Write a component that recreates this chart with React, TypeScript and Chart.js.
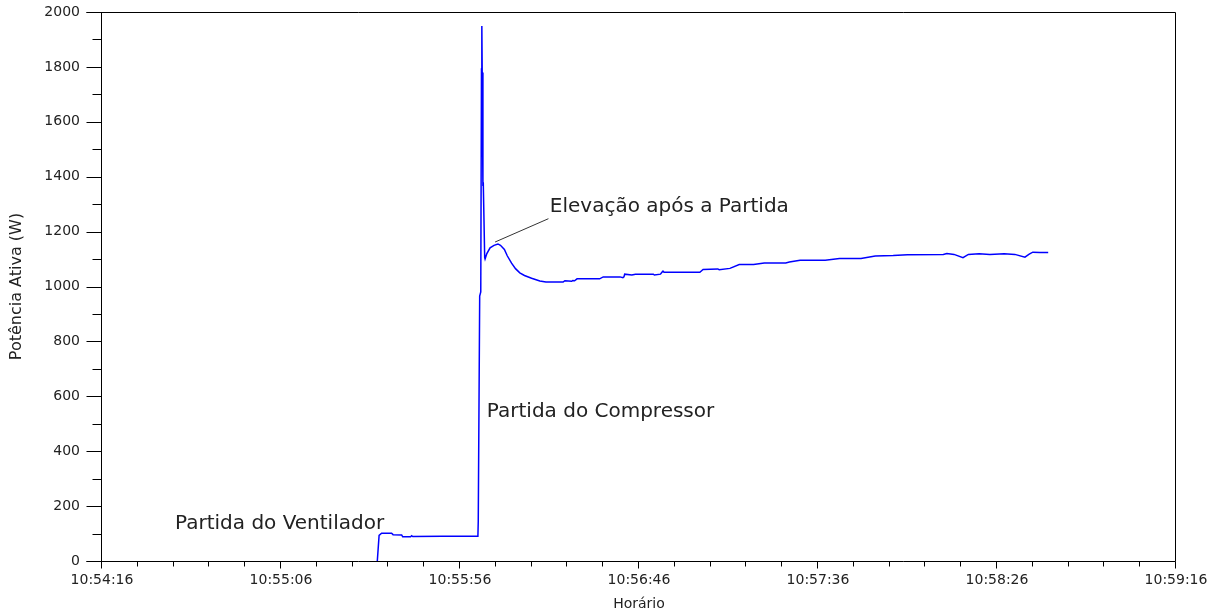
import React, { useEffect, useRef } from 'react';
import { Chart, registerables } from 'chart.js';

Chart.register(...registerables);

// X axis: seconds elapsed since 10:54:16
const xTickLabels = ['10:54:16', '10:55:06', '10:55:56', '10:56:46', '10:57:36', '10:58:26', '10:59:16'];
const yTickStep = 200;

const timeSeconds = [
  76.9, 77.4, 78.1, 80.9, 81.3, 83.7, 84.0, 86.2, 86.5, 86.8, 95.0, 105.0,
  105.1, 105.5, 105.8, 106.0, 106.1, 106.2, 106.4, 106.5, 106.9, 107.0,
  107.5, 108.4, 109.5, 110.6, 111.3, 112.4, 113.2, 114.4, 115.5, 116.7, 118.0, 120.0,
  122.3, 124.0, 128.8, 129.3, 131.2, 131.5, 132.0, 132.7, 139.0, 140.0, 144.7, 145.5, 145.8,
  146.0, 148.0, 149.0, 154.0, 154.3, 156.0, 156.4, 156.7, 157.0, 167.0, 167.9, 172.0, 172.4,
  175.4, 178.0, 182.0, 185.0, 191.0, 192.0, 195.0, 202.0, 206.0, 212.0, 216.0, 221.0,
  225.0, 235.0, 236.0, 238.0, 240.5, 242.0, 245.0, 248.0, 252.0, 255.0, 257.8, 259.0,
  260.0, 262.0, 264.3,
];
const activePower = [
  0, 93, 101, 101, 96, 95, 88, 88, 92, 89, 90, 90,
  145, 965, 980, 1792, 1949, 1780, 1366, 1380, 1105, 1100,
  1120, 1141, 1150, 1155, 1150, 1135, 1112, 1085, 1065, 1050, 1040, 1030,
  1020, 1016, 1016, 1021, 1019, 1022, 1021, 1028, 1028, 1035, 1035, 1032, 1035,
  1045, 1042, 1045, 1045, 1042, 1045, 1052, 1056, 1052, 1052, 1062, 1064, 1061,
  1066, 1080, 1080, 1086, 1086, 1089, 1096, 1096, 1102, 1102, 1111, 1113,
  1116, 1117, 1120, 1117, 1105, 1117, 1119, 1117, 1119, 1117, 1107, 1118,
  1125, 1124, 1124,
];

const annotationTexts = ['Partida do Ventilador', 'Partida do Compressor', 'Elevação após a Partida'];
const annotationTimes = [20.4, 107.5, 125.1];
const annotationPowers = [115, 523, 1270];
const leaderTimes = [109.8, 124.7];
const leaderPowers = [1162, 1247];

const FONT = '"DejaVu Sans", "Liberation Sans", Arial, sans-serif';

const framePlugin = {
  id: 'framePlugin',
  afterDatasetsDraw(chart: any) {
    const { ctx, scales } = chart;
    const x = scales.x;
    const y = scales.y;
    ctx.save();
    ctx.strokeStyle = '#333';
    ctx.lineWidth = 1;
    ctx.beginPath();
    ctx.moveTo(x.getPixelForValue(leaderTimes[0]), y.getPixelForValue(leaderPowers[0]));
    ctx.lineTo(x.getPixelForValue(leaderTimes[1]), y.getPixelForValue(leaderPowers[1]));
    ctx.stroke();
    ctx.fillStyle = '#222';
    ctx.font = '20px ' + FONT;
    ctx.textBaseline = 'alphabetic';
    ctx.textAlign = 'left';
    annotationTexts.forEach((t, i) => {
      ctx.fillText(t, x.getPixelForValue(annotationTimes[i]), y.getPixelForValue(annotationPowers[i]));
    });
    ctx.restore();
  },
  afterDraw(chart: any) {
    const { ctx, chartArea: a, scales } = chart;
    const x = scales.x;
    const y = scales.y;
    const L = Math.round(a.left) - 0.5;
    const R = Math.round(a.right) - 0.5;
    const T = Math.round(a.top) + 0.5;
    const B = Math.round(a.bottom) + 0.5;
    ctx.save();
    ctx.strokeStyle = '#000';
    ctx.lineWidth = 1;
    ctx.beginPath();
    ctx.moveTo(L - 15, T);
    ctx.lineTo(R, T);
    ctx.lineTo(R, B);
    ctx.moveTo(L, T);
    ctx.lineTo(L, B);
    ctx.moveTo(L - 15, B);
    ctx.lineTo(R, B);
    for (let v = y.min; v <= y.max; v += yTickStep / 2) {
      const py = Math.round(y.getPixelForValue(v)) + 0.5;
      const len = v % yTickStep === 0 ? 15 : 9;
      ctx.moveTo(L - len, py);
      ctx.lineTo(L, py);
    }
    for (let t = x.min; t <= x.max; t += 10) {
      const px = Math.round(x.getPixelForValue(t)) - 0.5;
      const len = t % 50 === 0 ? 7 : 5;
      ctx.moveTo(px, B);
      ctx.lineTo(px, B + len);
    }
    ctx.stroke();
    ctx.restore();
  },
};

export default function App() {
  const canvasRef = useRef<HTMLCanvasElement | null>(null);

  useEffect(() => {
    if (!canvasRef.current) return;
    const points = timeSeconds.map((t, i) => ({ x: t, y: activePower[i] }));
    const chart = new Chart(canvasRef.current, {
      type: 'line',
      data: {
        datasets: [
          {
            data: points,
            borderColor: 'rgb(0,0,255)',
            borderWidth: 1.5,
            pointRadius: 0,
            tension: 0,
            fill: false,
          },
        ],
      },
      options: {
        animation: false,
        responsive: true,
        maintainAspectRatio: false,
        layout: { padding: { left: 0, top: 12, right: 35, bottom: 0 } },
        plugins: { legend: { display: false }, tooltip: { enabled: false } },
        scales: {
          x: {
            type: 'linear',
            min: 0,
            max: 300,
            border: { display: false },
            grid: { display: false, drawTicks: true, tickLength: 11 },
            ticks: {
              stepSize: 50,
              autoSkip: false,
              maxRotation: 0,
              padding: 0,
              color: '#222',
              font: { family: FONT, size: 14 },
              callback: (v: any) => xTickLabels[Math.round(Number(v) / 50)] ?? '',
            },
            title: {
              display: true,
              text: 'Horário',
              color: '#222',
              font: { family: FONT, size: 14 },
              padding: { top: 0, bottom: 1 },
            },
            afterFit: (s: any) => {
              s.height = 53;
            },
          },
          y: {
            min: 0,
            max: 2000,
            border: { display: false },
            grid: { display: false, drawTicks: true, tickLength: 22 },
            ticks: {
              stepSize: yTickStep,
              padding: 0,
              color: '#222',
              font: { family: FONT, size: 14 },
              callback: (v: any) => String(v),
            },
            title: {
              display: true,
              text: 'Potência Ativa (W)',
              color: '#222',
              font: { family: FONT, size: 16 },
              padding: { top: 7, bottom: 0 },
            },
            afterFit: (s: any) => {
              s.width = 102;
            },
          },
        },
      },
      plugins: [framePlugin],
    });
    return () => chart.destroy();
  }, []);

  return (
    <div style={{ position: 'fixed', left: 0, top: 0, width: 1211, height: 614, background: '#fff' }}>
      <canvas ref={canvasRef} />
    </div>
  );
}
